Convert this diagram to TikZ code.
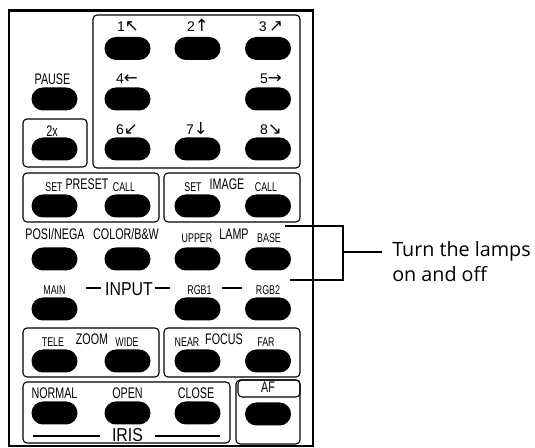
\documentclass[tikz,border=0pt]{standalone}
\usepackage{fontspec}
\setmainfont{Liberation Sans}
\newfontfamily\condf[FakeStretch=0.7]{Liberation Sans}
\newfontfamily\midf[FakeStretch=0.85]{Liberation Sans}
\newfontfamily\arrf{DejaVu Sans}
\newfontfamily\callf{Open Sans}
\newcommand{\arw}[1]{{\arrf\fontsize{12.5}{12}\selectfont #1}}
\begin{document}
\begin{tikzpicture}[x=0.75pt,y=-0.75pt,
  btn/.style={fill=black,draw=none,rounded corners=8.6pt,minimum width=34.5pt,minimum height=17.25pt,inner sep=0pt},
  grpbox/.style={draw,line width=0.8pt,rounded corners=3pt},
  lbl/.style={anchor=base,inner sep=0pt,font=\condf\fontsize{11.5}{13}\selectfont},
  sml/.style={anchor=base,inner sep=0pt,font=\condf\fontsize{9.5}{11}\selectfont},
  big/.style={anchor=base,inner sep=0pt,font=\midf\fontsize{14}{16}\selectfont},
  num/.style={anchor=base,inner sep=0pt,font=\fontsize{10.5}{12}\selectfont},
  callout/.style={anchor=base west,inner sep=0pt,font=\callf\fontsize{14.8}{18}\selectfont},
  rule/.style={line width=1.3pt},
  leader/.style={line width=1.1pt}]
\useasboundingbox (0,0) rectangle (535,448);
% remote body
\draw[line width=1.8pt] (8.7,10.5) rectangle (313,446);
% group boxes
\draw[grpbox] (93,15) rectangle (300,168);
\draw[grpbox] (23,119) rectangle (87,167);
\draw[grpbox] (23,173) rectangle (159,222);
\draw[grpbox] (164,173) rectangle (300,222);
\draw[grpbox] (23,328) rectangle (159,377);
\draw[grpbox] (164,328) rectangle (300,377);
\draw[grpbox] (23,382) rectangle (230,443);
\draw[grpbox] (236,380) rectangle (300,444);
\draw[grpbox] (238,380) rectangle (300,397);
% buttons
\node[btn] (b1) at (127.5,48.5) {};
\node[btn] (b2) at (197.5,48.5) {};
\node[btn] (b3) at (268,48.5) {};
\node[btn] (pause) at (54.5,99) {};
\node[btn] (b4) at (127.5,99) {};
\node[btn] (b5) at (268,99) {};
\node[btn] (b2x) at (54.5,149) {};
\node[btn] (b6) at (127.5,149) {};
\node[btn] (b7) at (197.5,149) {};
\node[btn] (b8) at (268,149) {};
\node[btn] (pset) at (54.5,206) {};
\node[btn] (pcall) at (127.5,206) {};
\node[btn] (iset) at (197.5,206) {};
\node[btn] (icall) at (268,206) {};
\node[btn] (posi) at (54.5,259) {};
\node[btn] (color) at (127.5,259) {};
\node[btn] (upper) at (197.5,259) {};
\node[btn] (base) at (268,259) {};
\node[btn] (main) at (54.5,309) {};
\node[btn] (rgb1) at (197.5,309) {};
\node[btn] (rgb2) at (268,309) {};
\node[btn] (tele) at (54.5,361) {};
\node[btn] (wide) at (127.5,361) {};
\node[btn] (near) at (197.5,361) {};
\node[btn] (far) at (268,361) {};
\node[btn] (normal) at (54.5,413) {};
\node[btn] (open) at (127.5,413) {};
\node[btn] (close) at (197.5,413) {};
\node[btn] (af) at (268,414) {};
% keypad labels
\node[num] (l1) at (128,32) {1\arw{↖}};
\node[num] (l2) at (198,32) {2\arw{↑}};
\node[num] (l3) at (271,32) {3\,\arw{↗}};
\node[num] (l4) at (127,84) {4\arw{←}};
\node[num] (l5) at (271,84) {5\arw{→}};
\node[num] (l6) at (127,135) {6\arw{↙}};
\node[num] (l7) at (197,135) {7\arw{↓}};
\node[num] (l8) at (271,135) {8\arw{↘}};
\node[lbl] (lpause) at (52.5,85) {PAUSE};
\node[lbl] (l2x) at (52,137) {2x};
% preset / image
\node[sml] (lpset) at (54,192) {SET};
\node[lbl] (lpreset) at (87,190) {PRESET};
\node[sml] (lpcall) at (124,192) {CALL};
\node[sml] (liset) at (193,192) {SET};
\node[lbl] (limage) at (227,190) {IMAGE};
\node[sml] (licall) at (266,192) {CALL};
% lamp row
\node[lbl] (lposi) at (55,240) {POSI/NEGA};
\node[lbl] (lcolor) at (126,240) {COLOR/B\&W};
\node[sml] (lupper) at (197,243) {UPPER};
\node[lbl] (llamp) at (234,240) {LAMP};
\node[sml] (lbase) at (269,243) {BASE};
% input row
\node[sml] (lmain) at (54.5,295) {MAIN};
\node[big] (linput) at (129,296) {INPUT};
\node[sml] (lrgb1) at (199.5,295) {RGB1};
\node[sml] (lrgb2) at (268,295) {RGB2};
\draw[rule] (86,288) -- (101,288);
\draw[rule] (155,288) -- (170,288);
\draw[rule] (222,288) -- (242,288);
% zoom / focus
\node[sml] (ltele) at (53,347) {TELE};
\node[lbl] (lzoom) at (92,345) {ZOOM};
\node[sml] (lwide) at (127,347) {WIDE};
\node[sml] (lnear) at (187,347) {NEAR};
\node[lbl] (lfocus) at (224,345) {FOCUS};
\node[sml] (lfar) at (266,347) {FAR};
% iris / af
\node[lbl] (lnormal) at (54.5,399) {NORMAL};
\node[lbl] (lopen) at (127.5,399) {OPEN};
\node[lbl] (lclose) at (196,399) {CLOSE};
\node[big] (liris) at (127.5,441.5) {IRIS};
\draw[rule] (33,436) -- (100,436);
\draw[rule] (155,436) -- (220,436);
\node[lbl] (laf) at (268,393) {AF};
% callout
\node[callout] (ct1) at (392,256.7) {Turn the lamps};
\node[callout] (ct2) at (392,281.7) {on and off};
\coordinate (bt) at (285,226);
\coordinate (bb) at (290,280);
\coordinate (bm) at (343,252);
\draw[leader] (bt) -- (343,226) -- (343,280) -- (bb);
\draw[leader] (bm) -- (382,252);
\end{tikzpicture}
\end{document}
